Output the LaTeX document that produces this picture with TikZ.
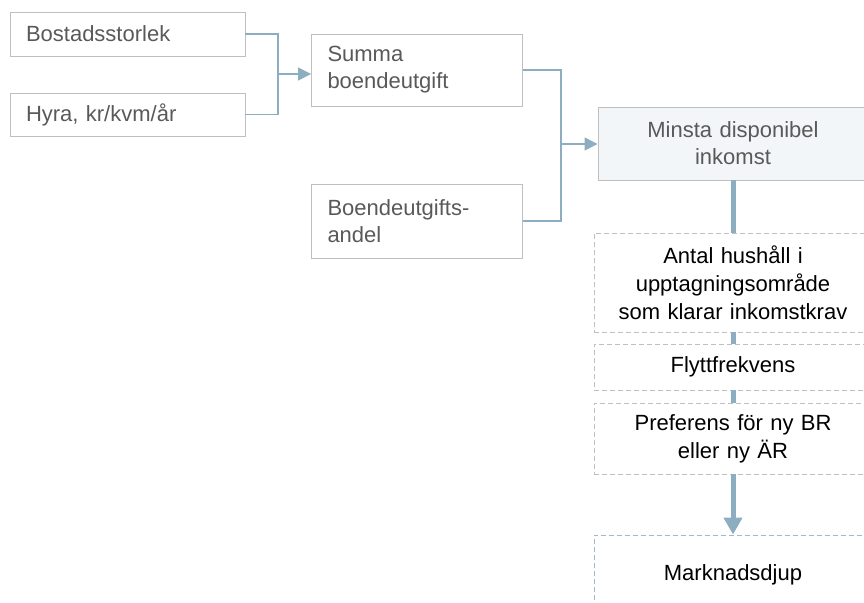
\documentclass[tikz,border=0pt]{standalone}
\usepackage{fontspec}
\setmainfont{Liberation Sans}
\usetikzlibrary{arrows.meta}
\definecolor{boxgray}{HTML}{BFBFBF}
\definecolor{txtgray}{HTML}{595959}
\definecolor{connblue}{HTML}{8DADC1}
\definecolor{fillblue}{HTML}{F2F6F8}
\tikzset{
  inbox/.style={draw=boxgray,line width=0.9pt,text=txtgray,align=left,
    inner xsep=16pt,inner ysep=0pt,font=\fontsize{22}{27}\selectfont},
  stepbox/.style={draw=boxgray,dashed,dash pattern=on 5pt off 3pt,line width=0.9pt,
    text=black,align=center,inner sep=0pt,text width=278pt,
    font=\fontsize{22}{28}\selectfont},
  conn/.style={draw=connblue,line width=1.3pt},
  thick conn/.style={draw=connblue,line width=5pt},
}
\begin{document}
\begin{tikzpicture}[x=1pt,y=-1pt]
  \useasboundingbox (0,0) rectangle (864,602);
  \clip (0,0) rectangle (864,602);

  %input boxes
  \node[inbox,minimum width=235pt,minimum height=44pt,text width=203pt] (bost) at (127.5,34) {Bostadsstorlek};
  \node[inbox,minimum width=235pt,minimum height=43pt,text width=203pt] (hyra) at (127.5,114.5) {Hyra, kr/kvm/år};
  \node[inbox,minimum width=211pt,minimum height=72pt,text width=179pt] (summa) at (417,70) {Summa\\boendeutgift};
  \node[inbox,minimum width=211pt,minimum height=74pt,text width=179pt] (boend) at (417,221) {Boendeutgifts-\\andel};

  %result box
  \node[inbox,fill=fillblue,align=center,inner xsep=0pt,text width=270pt,minimum height=73pt] (minsta) at (733,143.5) {Minsta disponibel\\inkomst};

  %steps
  \node[stepbox,minimum height=99pt] (antal) at (733,282.5) {Antal hushåll i\\upptagningsområde\\som klarar inkomstkrav};
  \node[stepbox,minimum height=46pt] (flytt) at (733,367) {Flyttfrekvens};
  \node[stepbox,minimum height=71pt] (pref) at (733,438.5) {Preferens för ny BR\\eller ny ÄR};
  \node[stepbox,draw=connblue!85,minimum height=80pt] (mark) at (733,575) {Marknadsdjup};

  %connectors
  \coordinate (j1) at (278,74);
  \coordinate (j2) at (561,144);
  \draw[conn] (bost.east) -| (j1);
  \draw[conn] (hyra.east) -| (j1);
  \draw[conn,-{Triangle[length=13pt,width=13pt]}] (j1) -- (j1 -| summa.west);
  \draw[conn] (summa.east) -| (j2);
  \draw[conn] (boend.east) -| (j2);
  \draw[conn,-{Triangle[length=13pt,width=13pt]}] (j2) -- (j2 -| minsta.west);

  \draw[thick conn] (minsta.south) -- (antal.north);
  \draw[thick conn] (antal.south) -- (flytt.north);
  \draw[thick conn] (flytt.south) -- (pref.north);
  \draw[thick conn,-{Triangle[length=17pt,width=18pt]}] (pref.south) -- (mark.north);
\end{tikzpicture}
\end{document}
